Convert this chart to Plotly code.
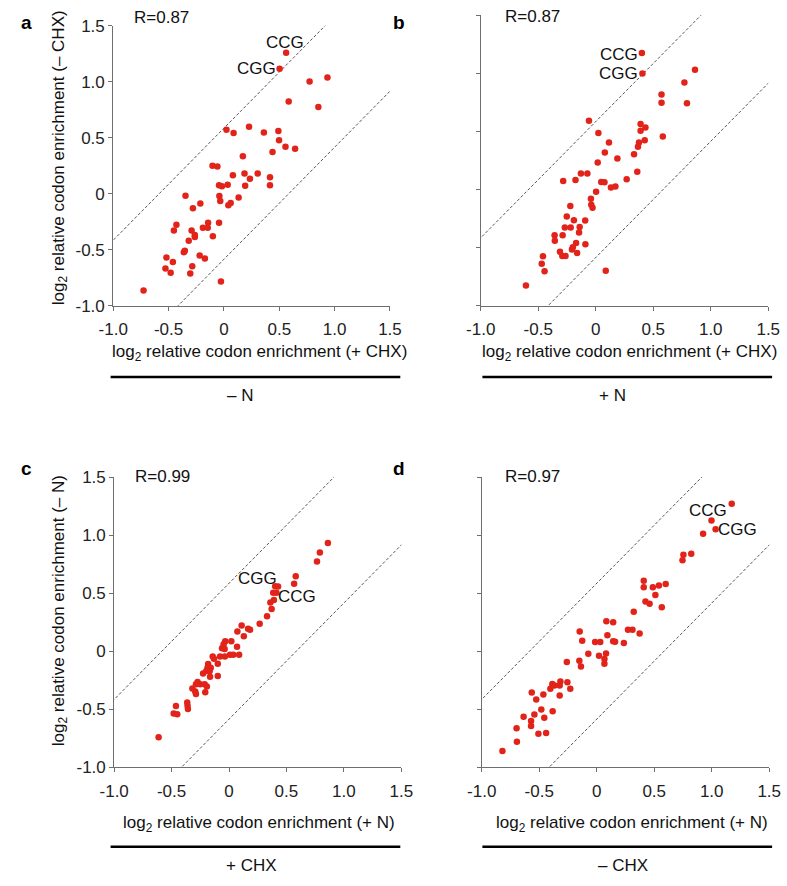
import plotly.graph_objects as go

W, H = 787, 886

# ---------------- data ----------------
# panel a : -N ; x = +CHX, y = -CHX
a_x = [0.562, 0.503, 0.774, 0.935, 0.585, 0.853, 0.023, 0.087, 0.227, 0.361,
       0.492, 0.498, 0.556, 0.643, 0.439, 0.171, -0.103, -0.059, 0.081, 0.186,
       0.305, 0.416, 0.235, 0.416, 0.192, -0.044, -0.018, 0.034, -0.041, 0.133,
       -0.033, 0.061, 0.040, -0.347, -0.213, -0.280, -0.429, -0.452, -0.292, -0.263,
       -0.263, -0.318, -0.143, -0.190, -0.146, -0.044, -0.100, -0.353, -0.362, -0.219,
       -0.172, -0.519, -0.461, -0.528, -0.481, -0.286, -0.304, -0.027, -0.726]
a_y = [1.258, 1.115, 1.002, 1.037, 0.824, 0.774, 0.571, 0.541, 0.597, 0.547,
       0.559, 0.477, 0.419, 0.402, 0.372, 0.334, 0.250, 0.244, 0.166, 0.180,
       0.180, 0.148, 0.133, 0.075, 0.072, 0.075, 0.066, 0.081, -0.021, -0.033,
       -0.065, -0.082, -0.103, -0.018, -0.088, -0.129, -0.277, -0.327, -0.327, -0.368,
       -0.385, -0.420, -0.260, -0.304, -0.304, -0.260, -0.379, -0.508, -0.522, -0.551,
       -0.578, -0.569, -0.610, -0.668, -0.706, -0.647, -0.711, -0.784, -0.863]

# panel b : +N ; x = +CHX, y = -CHX
b_x = [0.401, 0.406, 0.863, 0.771, 0.572, 0.572, 0.793, -0.059, 0.390, 0.432,
       0.390, 0.023, 0.583, 0.426, 0.376, 0.115, 0.367, 0.079, 0.333, 0.188,
       0.017, 0.361, -0.129, -0.073, -0.176, -0.283, 0.048, 0.076, 0.269, 0.132,
       0.171, 0.003, -0.042, -0.039, -0.028, -0.221, -0.252, -0.190, -0.092, -0.269,
       -0.218, -0.140, -0.145, -0.358, -0.288, -0.356, -0.171, -0.199, -0.207, -0.090,
       -0.311, -0.291, -0.263, -0.162, -0.459, -0.470, -0.445, 0.087, -0.607]
b_y = [1.175, 0.998, 1.032, 0.922, 0.818, 0.748, 0.742, 0.593, 0.565, 0.534,
       0.506, 0.487, 0.456, 0.425, 0.405, 0.405, 0.368, 0.318, 0.304, 0.268,
       0.234, 0.153, 0.139, 0.139, 0.083, 0.074, 0.066, 0.063, 0.088, 0.018,
       0.026, -0.019, -0.078, -0.131, -0.157, -0.142, -0.232, -0.263, -0.265, -0.327,
       -0.327, -0.322, -0.369, -0.392, -0.392, -0.440, -0.459, -0.496, -0.515, -0.470,
       -0.535, -0.572, -0.572, -0.546, -0.574, -0.639, -0.703, -0.698, -0.825]

# panel c : +CHX ; x = +N, y = -N
c_x = [0.861, 0.791, 0.766, 0.581, 0.567, 0.402, 0.427, 0.385, 0.413, 0.391,
       0.360, 0.371, 0.331, 0.267, 0.110, 0.166, 0.183, 0.073, 0.129, -0.033,
       0.020, -0.047, 0.070, -0.061, -0.038, 0.009, 0.037, 0.088, -0.078, -0.036,
       -0.142, -0.131, -0.098, -0.182, -0.187, -0.159, -0.168, -0.198, -0.226, -0.165,
       -0.098, -0.274, -0.288, -0.251, -0.212, -0.193, -0.319, -0.294, -0.288, -0.207,
       -0.364, -0.361, -0.358, -0.462, -0.482, -0.451, -0.613]
c_y = [0.932, 0.851, 0.772, 0.646, 0.582, 0.559, 0.557, 0.503, 0.503, 0.441,
       0.419, 0.363, 0.301, 0.236, 0.222, 0.194, 0.186, 0.171, 0.129, 0.087,
       0.087, 0.061, 0.039, 0.025, 0.019, -0.031, -0.031, -0.031, -0.045, -0.045,
       -0.045, -0.065, -0.107, -0.110, -0.143, -0.143, -0.171, -0.171, -0.191, -0.219,
       -0.213, -0.264, -0.284, -0.284, -0.284, -0.303, -0.320, -0.346, -0.368, -0.354,
       -0.441, -0.469, -0.497, -0.472, -0.536, -0.542, -0.741]

# panel d : -CHX ; x = +N, y = -N
d_x = [1.174, 0.998, 1.034, 0.925, 0.754, 0.822, 0.746, 0.409, 0.409, 0.488,
       0.541, 0.600, 0.510, 0.424, 0.460, 0.566, 0.322, 0.084, 0.143, 0.272,
       0.311, 0.373, -0.148, 0.093, -0.126, -0.014, 0.031, 0.143, 0.160, 0.236,
       -0.073, 0.020, 0.081, 0.067, 0.067, -0.260, -0.151, -0.137, -0.386, -0.316,
       -0.255, -0.230, -0.403, -0.367, -0.322, -0.322, -0.565, -0.464, -0.526, -0.482,
       -0.383, -0.636, -0.542, -0.456, -0.571, -0.571, -0.697, -0.507, -0.440, -0.694,
       -0.820]
d_y = [1.269, 1.126, 1.050, 1.011, 0.831, 0.840, 0.783, 0.606, 0.550, 0.550,
       0.567, 0.578, 0.485, 0.429, 0.410, 0.379, 0.340, 0.258, 0.250, 0.185,
       0.185, 0.152, 0.171, 0.137, 0.090, 0.079, 0.079, 0.087, 0.082, 0.070,
       -0.022, -0.039, -0.019, -0.067, -0.107, -0.093, -0.082, -0.132, -0.283, -0.261,
       -0.267, -0.323, -0.323, -0.295, -0.295, -0.382, -0.356, -0.373, -0.416, -0.502,
       -0.516, -0.564, -0.545, -0.573, -0.601, -0.643, -0.663, -0.711, -0.705, -0.780,
       -0.859]

r_values = ["R=0.87", "R=0.87", "R=0.99", "R=0.97"]
panel_letters = ["a", "b", "c", "d"]
x_titles = ["(+ CHX)", "(+ CHX)", "(+ N)", "(+ N)"]
y_titles = ["(\u2013 CHX)", None, "(\u2013 N)", None]
group_labels = ["\u2013 N", "+ N", "+ CHX", "\u2013 CHX"]

# codon labels: (text, x, y) text centres in data units
codon_labels = [
    [("CCG", 0.550, 1.347), ("CGG", 0.297, 1.116)],
    [("CCG", 0.203, 1.162), ("CGG", 0.195, 0.998)],
    [("CGG", 0.251, 0.626), ("CCG", 0.588, 0.475)],
    [("CCG", 0.972, 1.216), ("CGG", 1.224, 1.048)],
]

band = 0.585  # log2(1.5) dashed guide offset
guide_x = [-1.6, 1.6]

tick_vals = [-1.0, -0.5, 0, 0.5, 1.0, 1.5]
tick_text = ["-1.0", "-0.5", "0", "0.5", "1.0", "1.5"]

# ---------------- layout geometry (pixels) ----------------
# (x_left, x_right, y_top, y_bottom) of each plotting area
boxes = [
    (101.7, 388.3, 17.0, 303.3),
    (482.3, 780.0, 6.4, 303.3),
    (102.7, 400.0, 478.3, 775.0),
    (483.3, 781.0, 478.3, 775.0),
]
xtitle_pos = [(253, 352), (636, 352), (252.5, 833), (639, 833)]
ytitle_pos = [(46, 152), None, (46, 615), None]
rule_pos = [(99, 399, 376), (484, 784, 376), (99, 399, 856), (484, 784, 856)]
group_pos = [(233, 395), (619, 395), (245, 875), (630, 875)]
r_pos = [(152, 9), (536, 8), (153, 478), (536, 478)]
letter_pos = [(12, 14), (398, 14), (12, 470), (398, 470)]


def px(x):
    return x / W


def py(y):
    return 1 - y / H


FONT = "Liberation Sans, Arial, Helvetica, sans-serif"
RED = "#e2231a"
AXC = "#6e6e6e"

data_x = [a_x, b_x, c_x, d_x]
data_y = [a_y, b_y, c_y, d_y]

fig = go.Figure()
annotations = []
shapes = []

for i in range(4):
    n = "" if i == 0 else str(i + 1)
    xa, ya = "x" + n, "y" + n
    # guide lines
    for off in (band, -band):
        fig.add_trace(go.Scatter(
            x=guide_x, y=[v + off for v in guide_x], mode="lines",
            line=dict(color="#555555", width=1, dash="3px,2px"),
            xaxis=xa, yaxis=ya, hoverinfo="skip"))
    fig.add_trace(go.Scatter(
        x=data_x[i], y=data_y[i], mode="markers",
        marker=dict(color=RED, size=6.5, line=dict(width=0)),
        xaxis=xa, yaxis=ya, cliponaxis=False))

    x0, x1, y0, y1 = boxes[i]
    common = dict(range=[-1, 1.5], showgrid=False, zeroline=False,
                  showline=True, linecolor=AXC, linewidth=1,
                  ticks="outside", ticklen=4, tickwidth=1, tickcolor=AXC,
                  tickvals=tick_vals, ticktext=tick_text,
                  tickfont=dict(family=FONT, size=17, color="#222"))
    fig.layout["xaxis" + n] = dict(common, domain=[px(x0), px(x1)],
                                   anchor=ya, ticklabelstandoff=4)
    fig.layout["yaxis" + n] = dict(common, domain=[py(y1), py(y0)],
                                   anchor=xa,
                                   showticklabels=(i in (0, 2)))

    # codon labels
    for txt, lx, ly in codon_labels[i]:
        annotations.append(dict(text=txt, x=lx, y=ly, xref=xa, yref=ya,
                                showarrow=False, xanchor="center", yanchor="middle",
                                font=dict(family=FONT, size=17, color="#111")))
    # x title
    tx, ty = xtitle_pos[i]
    annotations.append(dict(text="log<sub>2</sub> relative codon enrichment " + x_titles[i],
                            x=px(tx), y=py(ty), xref="paper", yref="paper",
                            showarrow=False, xanchor="center", yanchor="middle",
                            font=dict(family=FONT, size=17, color="#111")))
    # y title
    if y_titles[i]:
        tx, ty = ytitle_pos[i]
        annotations.append(dict(text="log<sub>2</sub> relative codon enrichment " + y_titles[i],
                                x=px(tx), y=py(ty), xref="paper", yref="paper",
                                textangle=-90,
                                showarrow=False, xanchor="center", yanchor="middle",
                                font=dict(family=FONT, size=17, color="#111")))
    # group rule + label
    rx0, rx1, ry = rule_pos[i]
    shapes.append(dict(type="line", xref="paper", yref="paper",
                       x0=px(rx0), x1=px(rx1), y0=py(ry), y1=py(ry),
                       line=dict(color="#000", width=2.5)))
    gx, gy = group_pos[i]
    annotations.append(dict(text=group_labels[i], x=px(gx), y=py(gy),
                            xref="paper", yref="paper", showarrow=False,
                            xanchor="center", yanchor="middle",
                            font=dict(family=FONT, size=17, color="#111")))
    # R value
    rx, ry2 = r_pos[i]
    annotations.append(dict(text=r_values[i], x=px(rx), y=py(ry2),
                            xref="paper", yref="paper", showarrow=False,
                            xanchor="center", yanchor="middle",
                            font=dict(family=FONT, size=17, color="#111")))
    # panel letter
    lx, ly = letter_pos[i]
    annotations.append(dict(text="<b>" + panel_letters[i] + "</b>", x=px(lx), y=py(ly),
                            xref="paper", yref="paper", showarrow=False,
                            xanchor="center", yanchor="middle",
                            font=dict(family=FONT, size=19, color="#000")))

fig.update_layout(width=W, height=H, margin=dict(l=0, r=0, t=0, b=0, pad=0),
                  paper_bgcolor="white", plot_bgcolor="white",
                  showlegend=False, annotations=annotations, shapes=shapes)

fig.write_html(
    "out.html",
    config={"displayModeBar": False},
    post_script=("document.body.style.margin='0';"
                 "document.body.style.overflow='hidden';"),
)
